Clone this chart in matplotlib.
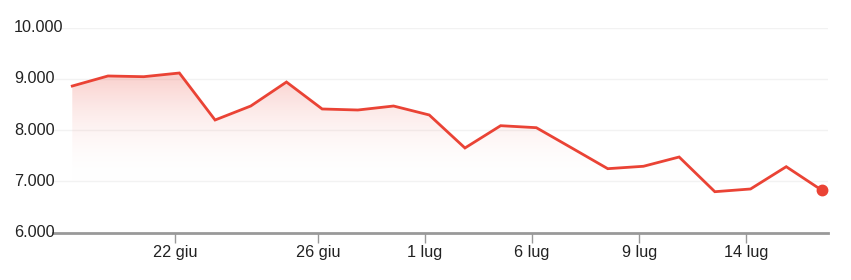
import matplotlib
matplotlib.use("Agg")
import matplotlib.pyplot as plt
import matplotlib.transforms as mtransforms
import numpy as np
from matplotlib.colors import LinearSegmentedColormap
from matplotlib.patches import Polygon

plt.rcParams['font.family'] = ['Liberation Sans', 'DejaVu Sans']

# ---- data ----
values = [8862, 9058, 9044, 9116, 8199, 8472, 8940, 8414, 8394, 8472, 8297,
          7653, 8088, 8049, 7650, 7249, 7296, 7477, 6800, 6853, 7288, 6827]
tick_index = [3, 7, 10, 13, 16, 19]
tick_labels = ["22 giu", "26 giu", "1 lug", "6 lug", "9 lug", "14 lug"]
y_ticks = [6000, 7000, 8000, 9000, 10000]
y_labels = ["6.000", "7.000", "8.000", "9.000", "10.000"]

RED = "#ea4335"
FS = 11.7

fig = plt.figure(figsize=(8.51, 2.8), dpi=100)
ax = fig.add_axes([53/851, 1-232.7/280, (828-53)/851, (232.7-27.7)/280])

x = np.arange(len(values))
y = np.array(values, dtype=float)

ax.set_xlim(-0.54, 21.17)
ax.set_ylim(6000, 10000)

# gradient fill under line
base = 6950
cmap = LinearSegmentedColormap.from_list("g", [(1, 1, 1, 0), (234/255, 67/255, 53/255, 0.26)])
grad = np.linspace(0, 1, 256).reshape(-1, 1)
im = ax.imshow(grad, extent=[x[0], x[-1], base, y.max()], origin="lower",
               aspect="auto", cmap=cmap, zorder=1)
verts = np.concatenate([np.column_stack([x, y]), np.column_stack([x[::-1], np.full_like(y, base)])])
clip = Polygon(verts, closed=True, transform=ax.transData, facecolor="none", edgecolor="none")
ax.add_patch(clip)
im.set_clip_path(clip)

# gridlines
for v in y_ticks[1:]:
    ax.axhline(v, color="#f2f2f2", lw=1, zorder=0)

ax.plot(x, y, color=RED, lw=2, zorder=3, solid_joinstyle="miter")
ax.plot(x[-1], y[-1], "o", color=RED, ms=7.5, zorder=4, clip_on=False)

for s in ["top", "right", "left"]:
    ax.spines[s].set_visible(False)
ax.spines["bottom"].set_color("#999999")
ax.spines["bottom"].set_linewidth(2)
ax.spines["bottom"].set_zorder(5)

ax.set_yticks([])
ax.set_xticks([t - 0.12 for t in tick_index])
ax.set_xticklabels(tick_labels, fontsize=FS, color="#222222")
ax.tick_params(axis="x", length=7, width=1, color="#999999", pad=2)

trans = mtransforms.blended_transform_factory(fig.transFigure, ax.transData)
for v, lab in zip(y_ticks, y_labels):
    ax.text(14/851, v, lab, transform=trans,
            ha="left", va="center", fontsize=FS, color="#222222", zorder=6)

fig.savefig("out.png", dpi=100)
